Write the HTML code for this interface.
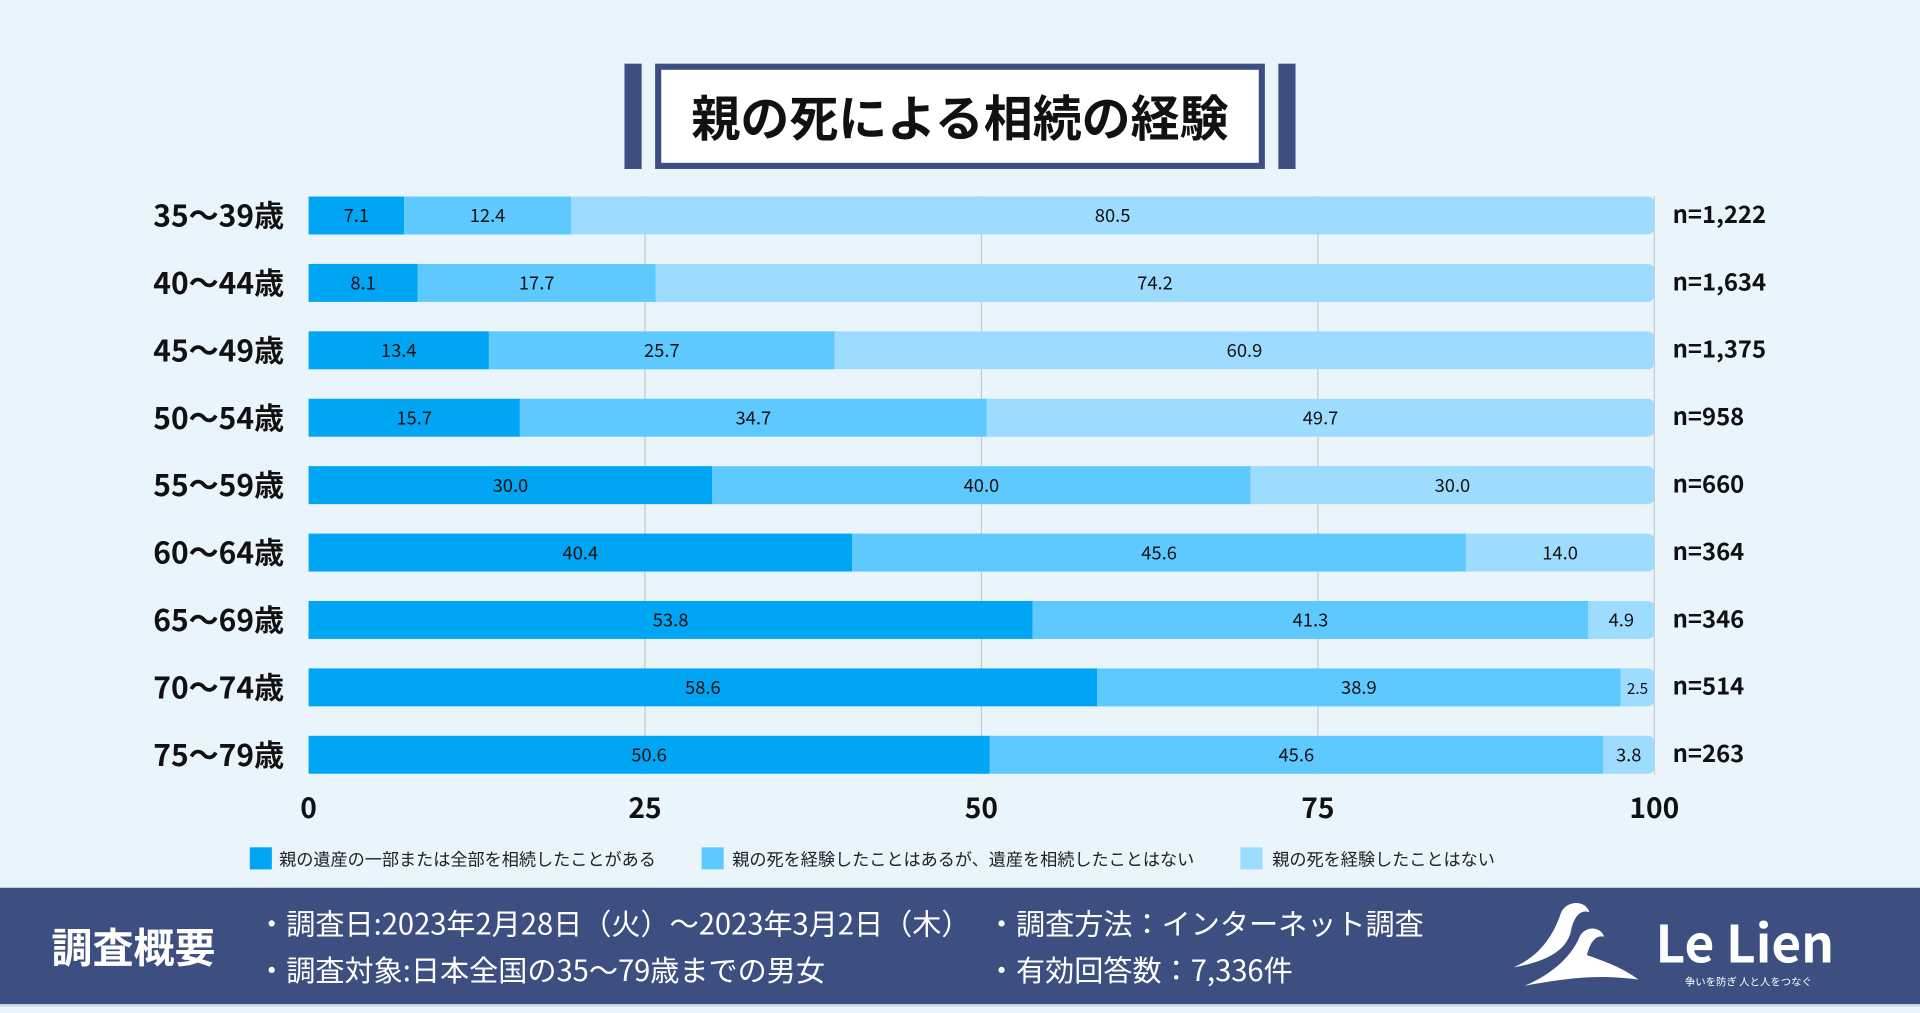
<!DOCTYPE html>
<html><head><meta charset="utf-8">
<style>
html,body{margin:0;padding:0;width:1920px;height:1005px;overflow:hidden;background:#e9f4fb;}
#wrap{position:absolute;left:0;top:0;width:1568px;height:822px;transform:scale(1.22449);transform-origin:0 0;font-family:"Liberation Sans","Noto Sans CJK JP",sans-serif;}
svg text{font-family:"Noto Sans CJK JP","Liberation Sans",sans-serif;}
</style></head>
<body>
<div id="wrap">
<svg id="svg" width="1568" height="822" viewBox="0 0 1568 822">
  <rect x="0" y="0" width="1568" height="822" fill="#e9f4fb"/>
  <g>
    <rect x="510" y="52" width="14" height="86" fill="#3d4f80"/>
    <rect x="1044" y="52" width="14" height="86" fill="#3d4f80"/>
    <rect x="537.5" y="54.5" width="493" height="81" fill="#fff" stroke="#3d4f80" stroke-width="5"/>
    <text x="784" y="111" text-anchor="middle" font-size="40" font-weight="bold" fill="#111">親の死による相続の経験</text>
  </g>
  <g id="grid"></g>
  <g id="bars"></g>
  <g id="xaxis"></g>
  <g>
    <rect x="204" y="692" width="18" height="18" fill="#00a5f4"/>
    <text x="228" y="707" font-size="14" fill="#222">親の遺産の一部または全部を相続したことがある</text>
    <rect x="573" y="692" width="18" height="18" fill="#5ec9ff"/>
    <text x="598" y="707" font-size="14" fill="#222">親の死を経験したことはあるが、遺産を相続したことはない</text>
    <rect x="1013" y="692" width="18" height="18" fill="#9edcff"/>
    <text x="1039" y="707" font-size="14" fill="#222">親の死を経験したことはない</text>
  </g>
  <g>
    <rect x="0" y="725" width="1568" height="95" fill="#3d4f80"/>
    <rect x="0" y="820" width="1568" height="2" fill="#c8d4e6"/>
    <text x="42" y="786" font-size="33.5" fill="#fff" font-weight="bold">調査概要</text>
    <text x="210" y="763" font-size="23.8" fill="#fff">・調査日:2023年2月28日（火）～2023年3月2日（木）</text>
    <text x="210" y="801" font-size="23.8" fill="#fff">・調査対象:日本全国の35～79歳までの男女</text>
    <text x="806" y="763" font-size="23.8" fill="#fff">・調査方法：インターネット調査</text>
    <text x="806" y="801" font-size="23.8" fill="#fff">・有効回答数：7,336件</text>
    <g>
      <path d="M1236 790 C1260 780 1270 760 1275 745 C1280 735 1295 735 1298 745 C1290 742 1285 750 1283 760 C1280 775 1265 785 1236 790Z" fill="#fff"/>
      <path d="M1245 805 C1270 795 1285 778 1290 765 C1295 755 1308 757 1310 765 C1302 763 1298 772 1296 780 C1310 785 1325 790 1338 800 C1300 795 1275 800 1245 805Z" fill="#fff"/>
      <text x="1352" y="786" font-size="42" font-weight="bold" fill="#fff" font-family="Liberation Sans, sans-serif">Le Lien</text>
      <text x="1376" y="805" font-size="8.5" fill="#fff">争いを防ぎ 人と人をつなぐ</text>
    </g>
  </g>
</svg>
</div>
<script>
const categories = ["35～39歳","40～44歳","45～49歳","50～54歳","55～59歳","60～64歳","65～69歳","70～74歳","75～79歳"];
const inherited = [7.1,8.1,13.4,15.7,30.0,40.4,53.8,58.6,50.6];
const noInherit = [12.4,17.7,25.7,34.7,40.0,45.6,41.3,38.9,45.6];
const noDeath = [80.5,74.2,60.9,49.7,30.0,14.0,4.9,2.5,3.8];
const sampleSizes = ["n=1,222","n=1,634","n=1,375","n=958","n=660","n=364","n=346","n=514","n=263"];
const xTicks = [0,25,50,75,100];

const NS="http://www.w3.org/2000/svg";
const X0=252, X1=1351, Y0=176, STEP=55.05, BH=31;
const xs=v=>X0+(X1-X0)*v/100;
const ys=i=>Y0+STEP*i;
function mk(tag,attrs,parent){const e=document.createElementNS(NS,tag);for(const k in attrs)e.setAttribute(k,attrs[k]);parent.appendChild(e);return e;}
const grid=document.getElementById('grid'), bars=document.getElementById('bars'), xaxis=document.getElementById('xaxis');
xTicks.forEach(t=>{
  if(t>0){const l=mk('line',{x1:xs(t),x2:xs(t),y1:ys(0)-16,y2:ys(categories.length-1)+16,stroke:'#c4c9cf','stroke-width':1},grid);
  
  }
  const tx=mk('text',{x:xs(t),y:668,'text-anchor':'middle','font-size':23,'font-weight':'bold',fill:'#111'},xaxis);
  tx.textContent=t;
  
  
});
const series=[[inherited,'#00a5f4'],[noInherit,'#5ec9ff'],[noDeath,'#9edcff']];
categories.forEach((c,i)=>{
  const cy=ys(i);
  const lab=mk('text',{x:232,y:cy+9,'text-anchor':'end','font-size':24.5,'font-weight':'bold',fill:'#111'},bars);
  lab.textContent=c;
  
  
  let acc=0;
  series.forEach((s,k)=>{
    const v=s[0][i]; const a=xs(acc), b=(k===2)?X1:xs(acc+v);
    if(k===2){
      const p=mk('path',{d:`M${a} ${cy-BH/2} H${b-6} Q${b} ${cy-BH/2} ${b} ${cy-BH/2+6} V${cy+BH/2-6} Q${b} ${cy+BH/2} ${b-6} ${cy+BH/2} H${a} Z`,fill:s[1]},bars);
      
      
    } else {
      const r=mk('rect',{x:a,y:cy-BH/2,width:b-a,height:BH,fill:s[1]},bars);
      
      
    }
    const t=mk('text',{x:(a+b)/2,y:cy+5.5,'text-anchor':'middle','font-size':v<3?12.5:15,fill:'#111'},bars);
    t.textContent=v.toFixed(1);
    
    
    acc+=v;
  });
  const n=mk('text',{x:1366,y:cy+6,'font-size':19.5,'font-weight':'bold',fill:'#111'},bars);
  n.textContent=sampleSizes[i];
  
  
});
</script>
</body></html>
